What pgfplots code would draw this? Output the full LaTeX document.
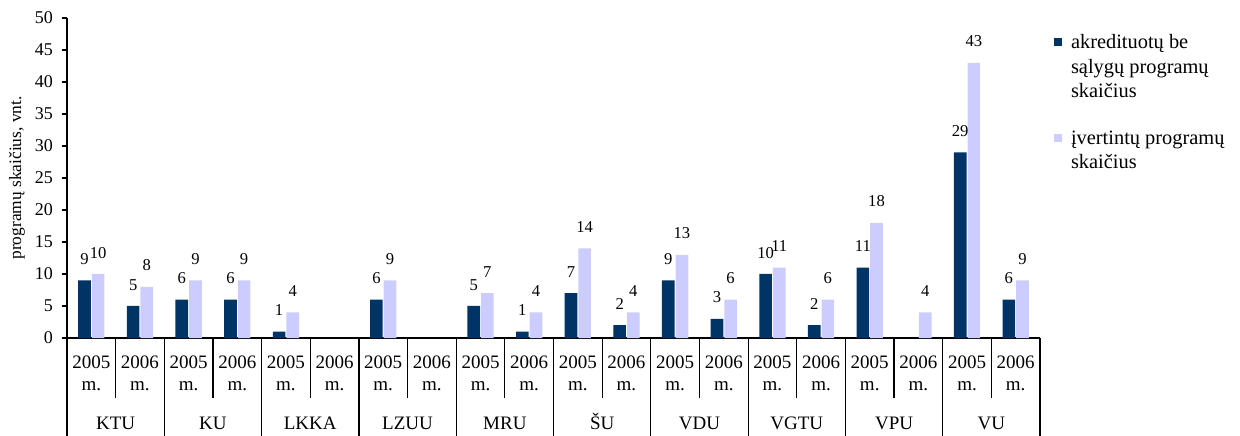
\documentclass[border=0pt]{standalone}
\usepackage{pgfplots}
\pgfplotsset{compat=1.18}
\usepackage{fontspec}
\setmainfont{Liberation Serif}
\definecolor{cdark}{RGB}{0,51,102}
\definecolor{clight}{RGB}{204,204,255}
\begin{document}
\begin{tikzpicture}
\path[use as bounding box] (0,0) rectangle (620bp,218bp);
\begin{axis}[
  at={(33.5bp,49bp)}, anchor=south west,
  scale only axis, width=486.5bp, height=160bp,
  xmin=-0.5, xmax=19.5, ymin=0, ymax=50,
  clip=false,
  axis x line*=bottom, axis y line*=left,
  axis line style={-, line width=0.6bp, black},
  ytick={0,5,...,50},
  xtick={0,...,19},
  xticklabels={{2005\\m.},{2006\\m.},{2005\\m.},{2006\\m.},{2005\\m.},{2006\\m.},{2005\\m.},{2006\\m.},{2005\\m.},{2006\\m.},{2005\\m.},{2006\\m.},{2005\\m.},{2006\\m.},{2005\\m.},{2006\\m.},{2005\\m.},{2006\\m.},{2005\\m.},{2006\\m.}},
  extra x ticks={0.5,2.5,4.5,6.5,8.5,10.5,12.5,14.5,16.5,18.5},
  extra x tick labels={KTU,KU,LKKA,LZUU,MRU,ŠU,VDU,VGTU,VPU,VU},
  extra x tick style={grid=none, major tick length=0pt, xticklabel shift=45.5bp, xticklabel style={anchor=base}},
  tick align=outside,
  major tick length=2.5bp,
  xtick style={draw=none},
  ytick style={line width=0.6bp, black},
  xticklabel style={font=\fontsize{9.5bp}{11.15bp}\selectfont, align=center, anchor=north, inner sep=0pt},
  xticklabel shift=6.25bp,
  yticklabel style={font=\fontsize{9bp}{10bp}\selectfont, xshift=-1bp},
  /pgf/number format/assume math mode=true,
  ylabel={programų skaičius, vnt.},
  ylabel style={at={(axis description cs:-0.0514,0.5)}, anchor=center, font=\fontsize{8.7bp}{10bp}\selectfont},
  ybar, bar width=0.26,
  nodes near coords,
  every node near coord/.append style={font=\fontsize{8.3bp}{10bp}\selectfont, anchor=south, inner sep=0pt, yshift=7.7bp, black},
  legend style={at={(axis description cs:1.0148,0.95625)}, anchor=north west, draw=none, fill=none, inner sep=0pt, outer sep=0pt, font=\fontsize{10.2bp}{12.1bp}\selectfont, column sep=4.3bp, row sep=0pt, cells={anchor=base west}, nodes={inner sep=0pt}},
]
\addplot[fill=cdark, draw=none, bar shift=-0.14,
  legend image code/.code={\fill[cdark] (0bp,1.4bp) rectangle (4bp,5.4bp);}]
  coordinates {(0,9)(1,5)(2,6)(3,6)(4,1)(6,6)(8,5)(9,1)(10,7)(11,2)(12,9)(13,3)(14,10)(15,2)(16,11)(18,29)(19,6)};
\addlegendentry[text height=8.5bp, text depth=3.65bp]{akredituotų be}
\addlegendimage{empty legend}
\addlegendentry[text height=8.5bp, text depth=3.65bp]{sąlygų programų}
\addlegendimage{empty legend}
\addlegendentry[text height=8.5bp, text depth=15bp]{skaičius}
\addplot[fill=clight, draw=none, bar shift=0.14,
  legend image code/.code={\fill[clight] (0bp,1.4bp) rectangle (4bp,5.4bp);}]
  coordinates {(0,10)(1,8)(2,9)(3,9)(4,4)(6,9)(8,7)(9,4)(10,14)(11,4)(12,13)(13,6)(14,11)(15,6)(16,18)(17,4)(18,43)(19,9)};
\addlegendentry[text height=8.5bp, text depth=3.65bp]{įvertintų programų}
\addlegendimage{empty legend}
\addlegendentry[text height=8.5bp, text depth=3.65bp]{skaičius}
% table grid below the axis
\draw[line width=0.6bp] (axis cs:-0.5,0) -- ++(0pt,-49bp);
\draw[line width=0.6bp] (axis cs:19.5,0) -- ++(0pt,-49bp);
\draw[line width=0.6bp] (axis cs:1.5,0) -- ++(0pt,-49bp);
\draw[line width=0.6bp] (axis cs:3.5,0) -- ++(0pt,-49bp);
\draw[line width=0.6bp] (axis cs:5.5,0) -- ++(0pt,-49bp);
\draw[line width=0.6bp] (axis cs:7.5,0) -- ++(0pt,-49bp);
\draw[line width=0.6bp] (axis cs:9.5,0) -- ++(0pt,-49bp);
\draw[line width=0.6bp] (axis cs:11.5,0) -- ++(0pt,-49bp);
\draw[line width=0.6bp] (axis cs:13.5,0) -- ++(0pt,-49bp);
\draw[line width=0.6bp] (axis cs:15.5,0) -- ++(0pt,-49bp);
\draw[line width=0.6bp] (axis cs:17.5,0) -- ++(0pt,-49bp);
\draw[line width=0.6bp] (axis cs:0.5,0) -- ++(0pt,-30bp);
\draw[line width=0.6bp] (axis cs:2.5,0) -- ++(0pt,-30bp);
\draw[line width=0.6bp] (axis cs:4.5,0) -- ++(0pt,-30bp);
\draw[line width=0.6bp] (axis cs:6.5,0) -- ++(0pt,-30bp);
\draw[line width=0.6bp] (axis cs:8.5,0) -- ++(0pt,-30bp);
\draw[line width=0.6bp] (axis cs:10.5,0) -- ++(0pt,-30bp);
\draw[line width=0.6bp] (axis cs:12.5,0) -- ++(0pt,-30bp);
\draw[line width=0.6bp] (axis cs:14.5,0) -- ++(0pt,-30bp);
\draw[line width=0.6bp] (axis cs:16.5,0) -- ++(0pt,-30bp);
\draw[line width=0.6bp] (axis cs:18.5,0) -- ++(0pt,-30bp);
\end{axis}
\end{tikzpicture}
\end{document}
